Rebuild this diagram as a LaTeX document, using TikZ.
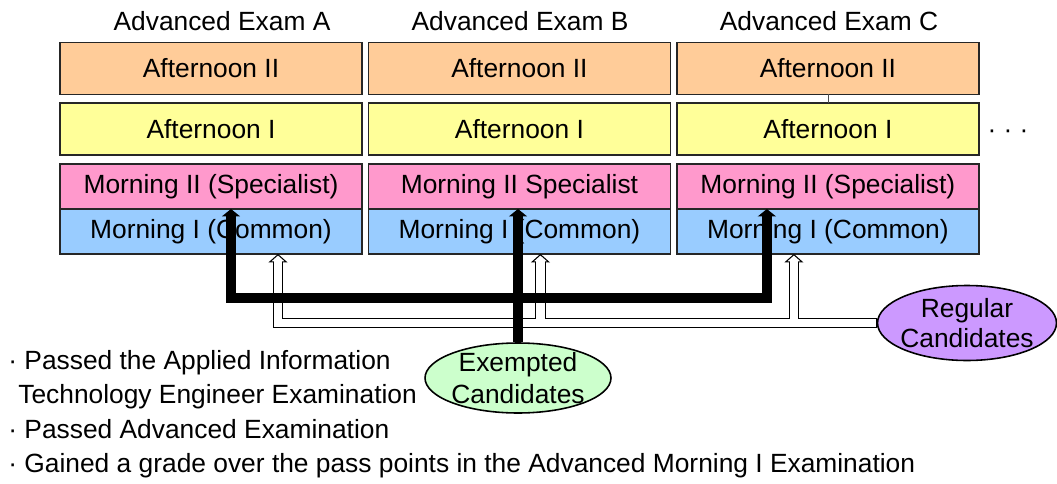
\documentclass[tikz,border=0pt]{standalone}
\usepackage{fontspec}
\setmainfont{Liberation Sans}
\usetikzlibrary{shapes.geometric,arrows.meta,positioning}
\definecolor{pmtwo}{HTML}{FFCC99}
\definecolor{pmone}{HTML}{FFFF99}
\definecolor{amtwo}{HTML}{FF99CC}
\definecolor{amone}{HTML}{99CCFF}
\definecolor{exbg}{HTML}{CCFFCC}
\definecolor{regbg}{HTML}{CC99FF}
\newcommand{\labfont}{\fontsize{15}{18}\selectfont}

\begin{document}
\begin{tikzpicture}[x=0.02cm, y=-0.02cm,
  node distance=0.17cm and 0.13cm,
  exam/.style={rectangle, draw=black!85, line width=0.9pt, outer sep=0pt,
    minimum width=6.04cm, inner sep=0pt, font=\labfont},
  aft/.style={exam, minimum height=1.04cm},
  mor/.style={exam, minimum height=0.9cm},
  head/.style={font=\labfont, inner sep=0pt},
  cand/.style={ellipse, draw=black, line width=0.9pt, align=center, inner sep=-1cm},
  bigarr/.style={line width=0.21cm, -{Triangle[width=0.36cm,length=0.15cm]}},
  hollowrim/.style={line width=0.21cm, shorten >=0.16cm},
  hollowfill/.style={line width=0.17cm, white, shorten >=0.14cm},
  hollowhead/.style={line width=0.6pt, -{Triangle[width=0.38cm,length=0.17cm,fill=white]}}
]
\useasboundingbox (0,0) rectangle (1057,483);

% exam columns
\node[aft, fill=pmtwo] (aft2A) at (211,68.5) {Afternoon II};
\node[aft, fill=pmone, below=of aft2A] (aft1A) {Afternoon I};
\node[mor, fill=amtwo, below=0.18cm of aft1A] (mor2A) {Morning II (Specialist)};
\node[mor, fill=amone, below=0pt of mor2A] (mor1A) {Morning I (Common)};

\node[aft, fill=pmtwo, right=of aft2A] (aft2B) {Afternoon II};
\node[aft, fill=pmone, below=of aft2B] (aft1B) {Afternoon I};
\node[mor, fill=amtwo, below=0.18cm of aft1B] (mor2B) {Morning II Specialist};
\node[mor, fill=amone, below=0pt of mor2B] (mor1B) {Morning I (Common)};

\node[aft, fill=pmtwo, right=of aft2B] (aft2C) {Afternoon II};
\node[aft, fill=pmone, below=of aft2C] (aft1C) {Afternoon I};
\node[mor, fill=amtwo, below=0.18cm of aft1C] (mor2C) {Morning II (Specialist)};
\node[mor, fill=amone, below=0pt of mor2C] (mor1C) {Morning I (Common)};

\node[head] (examA) at (222,21) {Advanced Exam A};
\node[head] (examB) at (520,21) {Advanced Exam B};
\node[head] (examC) at (829,21) {Advanced Exam C};
\node[head, anchor=base] (more) at (1008,138) {· · ·};
\draw[black!70] (aft2C.south) -- (aft1C.north);

% candidates
\node[cand, fill=exbg, minimum width=3.72cm, minimum height=1.4cm,
  font=\fontsize{15}{18.5}\selectfont] (exempt) at (518,378) {Exempted\\Candidates};
\node[cand, fill=regbg, minimum width=3.58cm, minimum height=1.5cm,
  font=\fontsize{15}{17}\selectfont] (regular) at (967,323) {Regular\\Candidates};

\node[anchor=north west, inner sep=0pt, align=left, font=\fontsize{15}{19.6}\selectfont] (conds) at (8,350)
  {· Passed the Applied Information\\
   \hspace*{0.2cm}Technology Engineer Examination\\
   · Passed Advanced Examination\\
   · Gained a grade over the pass points in the Advanced Morning I Examination};

% regular candidates: hollow arrows to Morning I
\coordinate (inA) at ([xshift=1.34cm]mor1A.south);
\coordinate (inB) at ([xshift=0.42cm]mor1B.south);
\coordinate (inC) at ([xshift=-0.68cm]mor1C.south);
\draw[hollowrim] (regular.west) -| (inA);
\draw[hollowrim] (inB |- regular.west) -- (inB);
\draw[hollowrim] (inC |- regular.west) -- (inC);
\draw[hollowhead] ([yshift=-0.17cm]inA) -- (inA);
\draw[hollowhead] ([yshift=-0.17cm]inB) -- (inB);
\draw[hollowhead] ([yshift=-0.17cm]inC) -- (inC);
\draw[hollowfill, shorten <=0.6pt] (regular.west) -| (inA);
\draw[hollowfill] (inB |- regular.west) -- (inB);
\draw[hollowfill] (inC |- regular.west) -- (inC);

% exempted candidates: thick arrows to Morning II
\coordinate (junc) at (518,298);
\draw[bigarr] (exempt.north) -- (mor2B.south -| exempt.north);
\draw[bigarr] (junc) -| ([xshift=0.4cm]mor2A.south);
\draw[bigarr] (junc) -| ([xshift=-1.22cm]mor2C.south);
\end{tikzpicture}
\end{document}
